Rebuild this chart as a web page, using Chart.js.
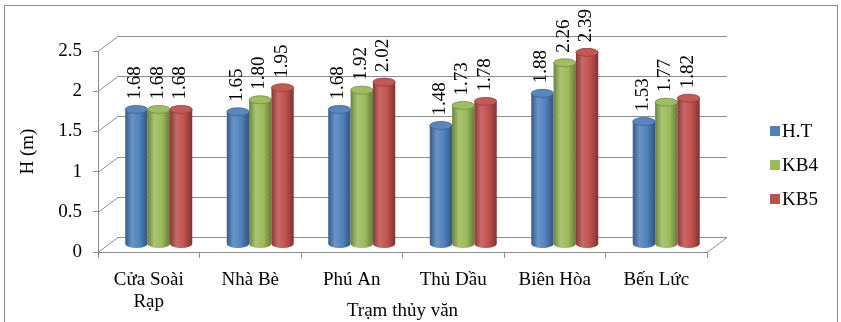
<!DOCTYPE html>
<html>
<head>
<meta charset="utf-8">
<script src="https://cdn.jsdelivr.net/npm/chart.js@4/dist/chart.umd.min.js"></script>
<style>
  html, body { margin: 0; padding: 0; background: #fff; }
  #wrap { width: 841px; height: 322px; position: relative; }
</style>
</head>
<body>
<div id="wrap"><canvas id="chart"></canvas></div>
<script>
const categories = [["Cửa Soài", "Rạp"], "Nhà Bè", "Phú An", "Thủ Dầu", "Biên Hòa", "Bến Lức"];
const seriesNames = ["H.T", "KB4", "KB5"];
const htValues = [1.68, 1.65, 1.68, 1.48, 1.88, 1.53];
const kb4Values = [1.68, 1.80, 1.92, 1.73, 2.26, 1.77];
const kb5Values = [1.68, 1.95, 2.02, 1.78, 2.39, 1.82];
const yTicks = [0, 0.5, 1, 1.5, 2, 2.5];
const yTickLabels = ["0", "0.5", "1", "1.5", "2", "2.5"];
const seriesColors = ["#4F81BD", "#9BBB59", "#C0504D"];

const FONT = "'Liberation Serif', 'Times New Roman', serif";
const GRID = "#8c8c8c";
// 3D depth of the plot box (back wall offset)
const DX = 20, DY = -15;

// lighten (amt > 0) or darken (amt < 0) a hex colour
function shade(hex, amt) {
  const n = parseInt(hex.slice(1), 16);
  let r = n >> 16, g = (n >> 8) & 255, b = n & 255;
  const t = amt < 0 ? 0 : 255, p = Math.abs(amt);
  r = Math.round(r + (t - r) * p);
  g = Math.round(g + (t - g) * p);
  b = Math.round(b + (t - b) * p);
  return `rgb(${r},${g},${b})`;
}

function drawCylinder(ctx, x, top, base, w, color) {
  const rx = w / 2, ry = 4;
  const left = x - rx;
  const grad = ctx.createLinearGradient(left, 0, left + w, 0);
  grad.addColorStop(0, shade(color, -0.3));
  grad.addColorStop(0.3, shade(color, 0.15));
  grad.addColorStop(0.65, color);
  grad.addColorStop(1, shade(color, -0.35));
  ctx.fillStyle = grad;
  ctx.beginPath();
  ctx.moveTo(left, top);
  ctx.lineTo(left, base);
  ctx.ellipse(x, base, rx, ry, 0, Math.PI, 0, true);
  ctx.lineTo(left + w, top);
  ctx.closePath();
  ctx.fill();

  ctx.beginPath();
  ctx.ellipse(x, top, rx, ry, 0, 0, Math.PI * 2);
  ctx.fillStyle = shade(color, 0.05);
  ctx.fill();
  ctx.strokeStyle = shade(color, -0.25);
  ctx.lineWidth = 0.8;
  ctx.stroke();
}

const box3d = {
  id: "box3d",
  beforeDraw(chart) {
    const ctx = chart.ctx;
    ctx.save();
    ctx.strokeStyle = GRID;
    ctx.lineWidth = 1;
    ctx.strokeRect(4.5, 5.5, 833, 330);
    ctx.restore();
  },
  beforeDatasetsDraw(chart) {
    const ctx = chart.ctx;
    const { left, right, bottom } = chart.chartArea;
    const y = chart.scales.y;
    ctx.save();
    ctx.strokeStyle = GRID;
    ctx.lineWidth = 1;
    // back wall and side wall grid lines
    yTicks.forEach(v => {
      const py = Math.round(y.getPixelForValue(v)) + 0.5;
      ctx.beginPath();
      ctx.moveTo(left, py);
      ctx.lineTo(left + DX, py + DY);
      ctx.lineTo(right + DX, py + DY);
      ctx.stroke();
    });
    // floor right edge
    ctx.beginPath();
    ctx.moveTo(right, Math.round(bottom) + 0.5);
    ctx.lineTo(right + DX, Math.round(bottom) + 0.5 + DY);
    ctx.stroke();

    // cylinders, shifted to the middle of the depth
    chart.data.datasets.forEach((ds, di) => {
      const meta = chart.getDatasetMeta(di);
      meta.data.forEach(el => {
        const p = el.getProps(["x", "y", "base", "width"], true);
        drawCylinder(ctx, p.x + DX / 2, p.y + DY / 2, p.base + DY / 2, p.width, seriesColors[di]);
      });
    });

    // rotated value labels
    ctx.fillStyle = "#000";
    ctx.font = "19px " + FONT;
    ctx.textAlign = "left";
    ctx.textBaseline = "middle";
    chart.data.datasets.forEach((ds, di) => {
      const meta = chart.getDatasetMeta(di);
      meta.data.forEach((el, i) => {
        const p = el.getProps(["x", "y"], true);
        ctx.save();
        ctx.translate(p.x + DX / 2 - 1, p.y + DY / 2 - 10);
        ctx.rotate(-Math.PI / 2);
        ctx.fillText(ds.data[i].toFixed(2), 0, 0);
        ctx.restore();
      });
    });
    ctx.restore();
    return false;
  },
  afterDraw(chart) {
    const ctx = chart.ctx;
    ctx.save();
    ctx.font = "19px " + FONT;
    ctx.textBaseline = "middle";
    ctx.textAlign = "left";
    const legendY = [131, 165, 199];
    seriesNames.forEach((name, i) => {
      ctx.fillStyle = seriesColors[i];
      ctx.fillRect(770, legendY[i] - 5, 10, 10);
      ctx.fillStyle = "#000";
      ctx.fillText(name, 782, legendY[i] + 1);
    });
    ctx.restore();
  }
};

new Chart(document.getElementById("chart"), {
  type: "bar",
  data: {
    labels: categories,
    datasets: [
      { label: seriesNames[0], data: htValues, backgroundColor: seriesColors[0] },
      { label: seriesNames[1], data: kb4Values, backgroundColor: seriesColors[1] },
      { label: seriesNames[2], data: kb5Values, backgroundColor: seriesColors[2] }
    ]
  },
  options: {
    responsive: true,
    maintainAspectRatio: false,
    animation: false,
    devicePixelRatio: 1,
    categoryPercentage: 0.66,
    barPercentage: 1,
    layout: { padding: { left: 0, top: 51, right: 134, bottom: 0 } },
    plugins: { legend: { display: false }, tooltip: { enabled: false } },
    scales: {
      x: {
        grid: { drawOnChartArea: false, drawTicks: true, tickLength: 6, offset: true, color: GRID },
        border: { display: true, color: GRID },
        ticks: { color: "#000", padding: 11, font: { family: FONT, size: 19, lineHeight: 1.16 }, maxRotation: 0 },
        title: { display: true, text: "Trạm thủy văn", color: "#000", font: { family: FONT, size: 19 }, padding: { top: 0, bottom: 0 } },
        afterFit(scale) { scale.height = 70; }
      },
      y: {
        min: 0,
        max: 2.5,
        afterBuildTicks(scale) { scale.ticks = yTicks.map(v => ({ value: v })); },
        grid: { drawOnChartArea: false, drawTicks: true, tickLength: 5, color: GRID },
        border: { display: true, color: GRID },
        ticks: {
          color: "#000",
          padding: 11,
          font: { family: FONT, size: 19 },
          callback: (v, i) => yTickLabels[i]
        },
        title: { display: true, text: "H (m)", color: "#000", font: { family: FONT, size: 19 }, padding: { top: 17, bottom: 0 } },
        afterFit(scale) { scale.width = 98; }
      }
    }
  },
  plugins: [box3d]
});
</script>
</body>
</html>
